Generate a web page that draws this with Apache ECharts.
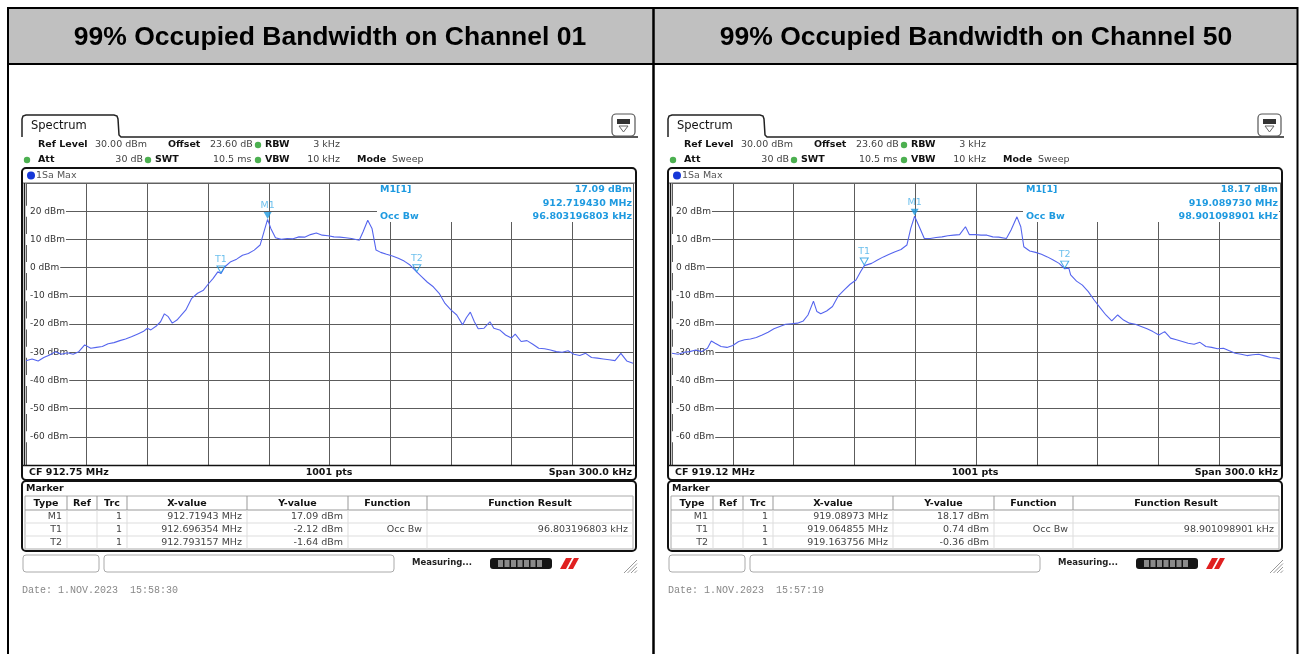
<!DOCTYPE html>
<html>
<head>
<meta charset="utf-8">
<script src="https://cdn.jsdelivr.net/npm/echarts@6/dist/echarts.min.js"></script>
<style>
  html, body { margin: 0; padding: 0; background: #fff; }
  #main { width: 1299px; height: 654px; }
</style>
</head>
<body>
<div id="main"></div>
<script>
// traces: [offset from CF in kHz, level in dBm]
const ch01Trace = [[-150,-33],[-147,-32.4],[-144,-33.1],[-141.2,-31.9],[-138.3,-31],[-135.4,-29.8],[-132.5,-30.7],[-129.6,-30.2],[-126.7,-30.7],[-123.9,-29.8],[-121,-27.4],[-118,-28.6],[-115.2,-28.3],[-112.3,-28],[-109.4,-27],[-106.5,-26.6],[-103.6,-25.9],[-100.8,-25.3],[-97.9,-24.5],[-95,-23.6],[-92.1,-22.7],[-90,-21.5],[-88.3,-22.1],[-85.4,-20.6],[-83.5,-19.2],[-81.6,-16.4],[-79.7,-17.4],[-77.7,-19.7],[-76.8,-20.1],[-75.4,-18.6],[-73.9,-17.4],[-71,-15],[-68.1,-10.9],[-65.2,-9.1],[-62.3,-8],[-60,-5.9],[-57.5,-3.8],[-55.2,-1.5],[-53.6,-2.1],[-51.7,0.3],[-48.8,2.1],[-45.9,3],[-43,4.4],[-40.1,5],[-37.2,6.2],[-34.3,8],[-32.4,12.7],[-30.6,17.1],[-29,13.9],[-26.7,10.6],[-23.8,10],[-20.9,10.3],[-18,10.2],[-15.1,10.9],[-12.3,10.8],[-9.4,11.7],[-6.5,12.3],[-3.6,11.5],[-0.7,11.3],[2.2,10.9],[5.1,10.8],[8,10.6],[10.9,10.3],[14.7,9.7],[16.6,12.7],[18.9,16.8],[21,13.9],[23,6.2],[25.3,5.4],[28.2,4.7],[31.1,4.1],[34,3.3],[36.9,2.3],[39.8,0.9],[43.2,-1.6],[45.5,-3.2],[48.4,-5.2],[51.3,-6.8],[54.2,-9.1],[57.1,-12.7],[60,-15],[62.9,-16.8],[65.8,-20.3],[67.7,-17.7],[69.6,-15.8],[71.6,-19.2],[73.5,-21.7],[76.4,-21.5],[79.3,-19.2],[81.2,-21.5],[84.1,-22.1],[87,-23.9],[89.9,-25],[91.8,-23.6],[94.7,-26.2],[97.6,-25.9],[100.5,-27.2],[103.4,-28.6],[106.3,-28.8],[109.2,-29.2],[112.1,-29.8],[115,-30],[117.9,-29.5],[120.8,-30.7],[123.7,-31.2],[126.6,-30.4],[129.5,-31.9],[132.4,-32.1],[135.3,-32.4],[138.2,-32.7],[141.1,-33],[144,-30.4],[146.9,-33.1],[150,-33.9]];
const ch50Trace = [[-150,-30.4],[-147,-30.7],[-144,-30],[-141.2,-29.8],[-138.3,-29.2],[-135.4,-29.8],[-132.5,-28.6],[-130.6,-26],[-128.7,-26.8],[-125.8,-28],[-122.9,-28.3],[-120,-27.6],[-117.1,-26.2],[-114.2,-25.6],[-111.3,-25.3],[-108.4,-24.8],[-105.5,-23.9],[-102.6,-22.9],[-99.7,-21.7],[-96.8,-20.9],[-93.9,-20.1],[-91,-19.9],[-88.1,-19.7],[-85.2,-18.9],[-82.9,-16.8],[-80.2,-11.9],[-78.5,-15.6],[-76.6,-16.4],[-73.7,-15.4],[-70.8,-13.8],[-67.9,-10],[-65,-7.9],[-62.1,-5.9],[-59.2,-4.4],[-56.9,-1.4],[-55.1,0.7],[-54.4,0.4],[-51.5,1.5],[-48.6,2.7],[-45.7,3.8],[-42.8,4.7],[-39.9,5.6],[-37,6.4],[-34.1,8],[-32.2,13.9],[-30.3,18.2],[-28,14.5],[-25.5,10.3],[-22.6,10.3],[-19.7,10.7],[-16.8,10.9],[-13.9,11.3],[-11,11.5],[-8.1,11.7],[-5.2,14.5],[-3.3,11.7],[-0.4,11.7],[2.5,11.5],[5.4,11.5],[8.3,10.9],[11.2,10.8],[15,10.3],[17.3,13.3],[20.2,18],[22.1,14.5],[23.6,7.4],[26.5,5.9],[29.4,5.4],[32.3,4.7],[35.2,3.8],[38.1,2.7],[41,1.5],[43.8,-0.4],[45.8,-0.2],[46.7,-2.6],[49.6,-4.8],[52.5,-6.2],[55.4,-8.5],[58.3,-11.5],[61.2,-14.2],[64.1,-16.8],[67,-18.9],[69.9,-16.8],[72.8,-18.6],[75.7,-19.7],[78.6,-20.1],[81.5,-20.9],[84.4,-21.7],[87.3,-22.7],[90.2,-23.9],[93.1,-22.7],[96,-25],[98.9,-25.6],[101.8,-26.2],[104.7,-26.8],[107.6,-27.2],[110.5,-26.5],[113.4,-28],[116.3,-28.3],[119.2,-28.8],[122.1,-28.6],[125,-29.5],[127.9,-30.4],[130.8,-30.7],[133.7,-31.2],[136.6,-30.9],[139.5,-30.7],[142.4,-31.3],[145.3,-31.9],[148.2,-32.1],[150,-32.4]];

// markers: [name, offset kHz, level dBm]
const ch01Markers = [['M1', -30.57, 17.09], ['T1', -53.646, -2.12], ['T2', 43.157, -1.64]];
const ch50Markers = [['M1', -30.27, 18.17], ['T1', -55.145, 0.74], ['T2', 43.756, -0.36]];

const titles = ['99% Occupied Bandwidth on Channel 01', '99% Occupied Bandwidth on Channel 50'];
const cfLabels = ['CF 912.75 MHz', 'CF 919.12 MHz'];
const m1Readout = [['17.09 dBm', '912.719430 MHz', '96.803196803 kHz'], ['18.17 dBm', '919.089730 MHz', '98.901098901 kHz']];
const tableHead = ['Type', 'Ref', 'Trc', 'X-value', 'Y-value', 'Function', 'Function Result'];
const ch01Rows = [
  ['M1', '', '1', '912.71943 MHz', '17.09 dBm', '', ''],
  ['T1', '', '1', '912.696354 MHz', '-2.12 dBm', 'Occ Bw', '96.803196803 kHz'],
  ['T2', '', '1', '912.793157 MHz', '-1.64 dBm', '', '']
];
const ch50Rows = [
  ['M1', '', '1', '919.08973 MHz', '18.17 dBm', '', ''],
  ['T1', '', '1', '919.064855 MHz', '0.74 dBm', 'Occ Bw', '98.901098901 kHz'],
  ['T2', '', '1', '919.163756 MHz', '-0.36 dBm', '', '']
];
const dates = ['Date: 1.NOV.2023  15:58:30', 'Date: 1.NOV.2023  15:57:19'];

const FONT = '"DejaVu Sans", Verdana, sans-serif';
const TRACE = '#5565ee';
const MARK = '#1e9ae0';

function txt(x, y, text, o) {
  o = o || {};
  return {
    type: 'text', silent: true, z: o.z || 5,
    style: {
      x: x, y: y, text: text,
      font: (o.bold ? 'bold ' : '') + (o.size || 9.5) + 'px ' + (o.family || FONT),
      fill: o.color || '#333', align: o.align || 'left', verticalAlign: 'middle'
    }
  };
}
function box(x, y, w, h, o) {
  o = o || {};
  return {
    type: 'rect', silent: true, z: o.z || 4,
    shape: { x: x, y: y, width: w, height: h, r: o.r || 0 },
    style: { fill: o.fill || null, stroke: o.stroke || null, lineWidth: o.lw || 1 }
  };
}
function seg(x1, y1, x2, y2, color, lw, z) {
  return {
    type: 'line', silent: true, z: z || 4,
    shape: { x1: x1, y1: y1, x2: x2, y2: y2 },
    style: { stroke: color, lineWidth: lw || 1 }
  };
}
function dot(x, y, r, color) {
  return { type: 'circle', silent: true, z: 5, shape: { cx: x, cy: y, r: r }, style: { fill: color } };
}

function panel(i, dx, rows) {
  const g = [];
  const green = '#4cb050';
  // tab + window top line
  g.push({
    type: 'polyline', silent: true, z: 4,
    shape: { points: [[dx + 22, 137], [dx + 22, 119], [dx + 23, 116], [dx + 26, 115], [dx + 114, 115], [dx + 117, 116], [dx + 118, 119], [dx + 119, 135], [dx + 121, 137], [dx + 638, 137]] },
    style: { stroke: '#222', lineWidth: 1.5, fill: null }
  });
  g.push(txt(dx + 31, 126.5, 'Spectrum', { size: 11.5, color: '#111' }));
  // small icon top right
  g.push(box(dx + 612, 114, 23, 22, { r: 4, stroke: '#555', fill: '#fff', lw: 1.2 }));
  g.push(box(dx + 617, 119, 13, 5, { fill: '#333' }));
  g.push({ type: 'polygon', silent: true, z: 5, shape: { points: [[dx + 619, 126], [dx + 628, 126], [dx + 623.5, 132]] }, style: { fill: null, stroke: '#666', lineWidth: 1 } });

  // settings rows
  g.push(txt(dx + 38, 145, 'Ref Level', { bold: true, color: '#111' }));
  g.push(txt(dx + 95, 145, '30.00 dBm', { color: '#444' }));
  g.push(txt(dx + 168, 145, 'Offset', { bold: true, color: '#111' }));
  g.push(txt(dx + 210, 145, '23.60 dB', { color: '#444' }));
  g.push(dot(dx + 258, 145, 3.2, green));
  g.push(txt(dx + 265, 145, 'RBW', { bold: true, color: '#111' }));
  g.push(txt(dx + 340, 145, '3 kHz', { color: '#444', align: 'right' }));
  g.push(dot(dx + 27, 160, 3.2, green));
  g.push(txt(dx + 38, 160, 'Att', { bold: true, color: '#111' }));
  g.push(txt(dx + 143, 160, '30 dB', { color: '#444', align: 'right' }));
  g.push(dot(dx + 148, 160, 3.2, green));
  g.push(txt(dx + 155, 160, 'SWT', { bold: true, color: '#111' }));
  g.push(txt(dx + 213, 160, '10.5 ms', { color: '#444' }));
  g.push(dot(dx + 258, 160, 3.2, green));
  g.push(txt(dx + 265, 160, 'VBW', { bold: true, color: '#111' }));
  g.push(txt(dx + 340, 160, '10 kHz', { color: '#444', align: 'right' }));
  g.push(txt(dx + 357, 160, 'Mode', { bold: true, color: '#111' }));
  g.push(txt(dx + 392, 160, 'Sweep', { color: '#444' }));

  // diagram frame
  g.push(box(dx + 22, 168, 614, 312, { r: 4, stroke: '#111', lw: 2 }));
  g.push(dot(dx + 31, 175.5, 4, '#1537d8'));
  g.push(txt(dx + 36, 175.5, '1Sa Max', { color: '#555' }));
  g.push(seg(dx + 23, 183, dx + 635, 183, '#666', 1));
  g.push(seg(dx + 23, 465.5, dx + 635, 465.5, '#111', 1.5));
  g.push(seg(dx + 24.5, 183, dx + 24.5, 466, '#222', 1.5, 5));
  // readout block covering grid
  g.push(box(dx + 377, 184, 256, 38, { fill: '#fff', z: 1 }));
  g.push(txt(dx + 380, 190, 'M1[1]', { bold: true, color: MARK }));
  g.push(txt(dx + 380, 217, 'Occ Bw', { bold: true, color: MARK }));
  m1Readout[i].forEach(function (s, k) {
    g.push(txt(dx + 632, 190 + k * 13.4, s, { bold: true, color: MARK, align: 'right' }));
  });
  // bottom bar
  g.push(txt(dx + 29, 472.5, cfLabels[i], { bold: true, color: '#111' }));
  g.push(txt(dx + 329, 472.5, '1001 pts', { bold: true, color: '#111', align: 'center' }));
  g.push(txt(dx + 632, 472.5, 'Span 300.0 kHz', { bold: true, color: '#111', align: 'right' }));

  // marker table
  g.push(box(dx + 22, 481, 614, 70, { r: 4, stroke: '#111', lw: 2 }));
  g.push(txt(dx + 26, 489, 'Marker', { bold: true, color: '#111' }));
  const cols = [25, 67, 97, 127, 247, 348, 427, 633];
  g.push(box(dx + 25, 496, 608, 53, { stroke: '#aaa' }));
  g.push(seg(dx + 25, 510, dx + 633, 510, '#999', 1));
  g.push(seg(dx + 25, 523, dx + 633, 523, '#ddd', 1));
  g.push(seg(dx + 25, 536, dx + 633, 536, '#ddd', 1));
  for (let c = 1; c < cols.length - 1; c++) {
    g.push(seg(dx + cols[c], 496, dx + cols[c], 510, '#999', 1));
    g.push(seg(dx + cols[c], 510, dx + cols[c], 549, '#ddd', 1));
  }
  tableHead.forEach(function (h, c) {
    g.push(txt(dx + (cols[c] + cols[c + 1]) / 2, 503.5, h, { bold: true, color: '#111', align: 'center' }));
  });
  rows.forEach(function (r, ri) {
    r.forEach(function (s, c) {
      if (s) g.push(txt(dx + cols[c + 1] - 5, 517 + ri * 13, s, { color: '#444', align: 'right' }));
    });
  });

  // status bar
  g.push(box(dx + 23, 555, 76, 17, { r: 3, stroke: '#aaa', fill: '#fff' }));
  g.push(box(dx + 104, 555, 290, 17, { r: 3, stroke: '#aaa', fill: '#fff' }));
  g.push(txt(dx + 412, 563, 'Measuring...', { bold: true, size: 8.5, color: '#222' }));
  g.push(box(dx + 490, 558, 62, 11, { r: 3, fill: '#151515' }));
  for (let s = 0; s < 7; s++) g.push(box(dx + 498 + s * 6.5, 560, 5, 7, { fill: '#8a8a8a', z: 5 }));
  g.push({ type: 'polygon', silent: true, z: 5, shape: { points: [[dx + 560, 569], [dx + 566, 558], [dx + 572, 558], [dx + 566, 569]] }, style: { fill: '#e02020' } });
  g.push({ type: 'polygon', silent: true, z: 5, shape: { points: [[dx + 568, 569], [dx + 574, 558], [dx + 579, 558], [dx + 573, 569]] }, style: { fill: '#e02020' } });
  for (let s = 0; s < 4; s++) g.push(seg(dx + 624 + s * 3.5, 573, dx + 637, 560 + s * 3.5, '#999', 1));
  g.push(txt(dx + 22, 590, dates[i], { size: 10, family: '"Liberation Mono", monospace', color: '#888' }));
  return g;
}

const chart = echarts.init(document.getElementById('main'));

let graphics = [];
// outer table
graphics.push(box(8, 8, 1290, 56, { fill: '#c0c0c0', z: 0 }));
graphics.push(seg(7, 8, 1298, 8, '#000', 2));
graphics.push(seg(7, 64, 1298, 64, '#000', 2));
graphics.push(seg(8, 7, 8, 654, '#000', 2));
graphics.push(seg(653.5, 7, 653.5, 654, '#000', 2.5));
graphics.push(seg(1297.5, 7, 1297.5, 654, '#000', 2));
graphics.push(txt(330, 38, titles[0], { bold: true, size: 26.5, family: '"Liberation Sans", Arial, sans-serif', color: '#000', align: 'center' }));
graphics.push(txt(976, 38, titles[1], { bold: true, size: 26.5, family: '"Liberation Sans", Arial, sans-serif', color: '#000', align: 'center' }));
graphics = graphics.concat(panel(0, 0, ch01Rows), panel(1, 646, ch50Rows));

function xAxisFor(gi) {
  return {
    gridIndex: gi, type: 'value', min: -150, max: 150, interval: 30,
    axisLine: { show: false }, axisTick: { show: false }, axisLabel: { show: false },
    splitLine: { show: true, lineStyle: { color: '#5c5c5c', width: 1 } }
  };
}
function yGridFor(gi) {
  return {
    gridIndex: gi, type: 'value', position: 'left', min: -70, max: 30, interval: 10,
    axisLine: { show: false }, axisTick: { show: false }, axisLabel: { show: false },
    splitLine: { show: true, lineStyle: { color: '#5c5c5c', width: 1 } }
  };
}
function yLabelFor(gi) {
  return {
    gridIndex: gi, type: 'value', position: 'left', offset: 0, min: -70, max: 30, interval: 10, z: 1,
    axisLine: { show: false }, axisTick: { show: false }, splitLine: { show: false },
    axisLabel: {
      inside: true, margin: 0, showMinLabel: false, showMaxLabel: false,
      formatter: function (v) { return v + ' dBm'; },
      fontFamily: FONT, fontSize: 9, color: '#333',
      backgroundColor: '#fff', padding: [1, 1, 1, 4]
    }
  };
}
function markerSeries(markers, xi, yi) {
  return {
    type: 'scatter', xAxisIndex: xi, yAxisIndex: yi, z: 4,
    symbol: 'triangle', symbolRotate: 180, symbolSize: [8, 7], symbolOffset: [0, -4],
    data: markers.map(function (m) {
      return {
        name: m[0], value: [m[1], m[2]],
        itemStyle: m[0] === 'M1' ? { color: MARK } : { color: 'rgba(255,255,255,0)', borderColor: MARK, borderWidth: 1 }
      };
    }),
    label: { show: true, position: 'top', distance: 1, formatter: '{b}', color: '#49b0e8', fontFamily: FONT, fontSize: 9.5 }
  };
}
function traceSeries(data, xi, yi) {
  return {
    type: 'line', xAxisIndex: xi, yAxisIndex: yi, z: 3, data: data,
    showSymbol: false, lineStyle: { color: TRACE, width: 1.1 }
  };
}

chart.setOption({
  animation: false,
  grid: [
    { left: 26, top: 183, width: 607, height: 282 },
    { left: 672, top: 183, width: 608, height: 282 }
  ],
  xAxis: [xAxisFor(0), xAxisFor(1)],
  yAxis: [yGridFor(0), yLabelFor(0), yGridFor(1), yLabelFor(1)],
  series: [
    traceSeries(ch01Trace, 0, 0),
    markerSeries(ch01Markers, 0, 0),
    traceSeries(ch50Trace, 1, 2),
    markerSeries(ch50Markers, 1, 2)
  ],
  graphic: graphics
});
</script>
</body>
</html>
